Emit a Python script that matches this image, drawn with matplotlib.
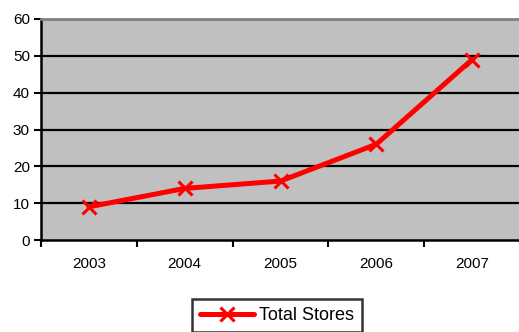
import matplotlib
matplotlib.use("Agg")
import matplotlib.pyplot as plt

years = ["2003", "2004", "2005", "2006", "2007"]
stores = [9, 14, 16, 26, 49]
yticks = [0, 10, 20, 30, 40, 50, 60]

plt.rcParams['font.family'] = ['Liberation Sans', 'DejaVu Sans']

fig = plt.figure(figsize=(5.19, 3.32), dpi=100)
ax = fig.add_axes([41/519, 1-240/332, 1-41/519+0.002, (240-19)/332])
ax.set_facecolor('#c0c0c0')

x = list(range(len(years)))
line, = ax.plot(x, stores, color='#ff0000', lw=3.6, marker='x', ms=10, mew=2.2,
                solid_capstyle='round', label='Total Stores', zorder=3)

ax.set_xlim(-0.5, len(years) - 0.5)
ax.set_ylim(0, 60)
ax.set_yticks(yticks)
ax.set_yticklabels([str(v) for v in yticks], fontsize=11)
ax.set_xticks(x)
ax.set_xticklabels(years, fontsize=11)
ax.tick_params(axis='x', length=0, pad=12)
ax.set_xticks([i - 0.5 for i in range(len(years) + 1)], minor=True)
ax.tick_params(axis='x', which='minor', length=5, width=1.5, direction='out')
ax.tick_params(axis='y', length=5, width=1.5, pad=3)

for v in yticks[1:-1]:
    ax.axhline(v, color='black', lw=1.6, zorder=1)

ax.spines['left'].set_linewidth(1.8)
ax.spines['bottom'].set_linewidth(1.8)
ax.spines['top'].set_color('#808080')
ax.spines['top'].set_linewidth(2)
ax.spines['right'].set_visible(False)

leg = fig.legend(handles=[line], loc='upper left', bbox_to_anchor=(192/519, 1-299/332),
                 fontsize=13, frameon=True, fancybox=False, edgecolor='black',
                 handlelength=3.0, handletextpad=0.25, borderpad=0.45, borderaxespad=0)
leg.get_frame().set_linewidth(1.8)

fig.savefig('out.png', dpi=100)
